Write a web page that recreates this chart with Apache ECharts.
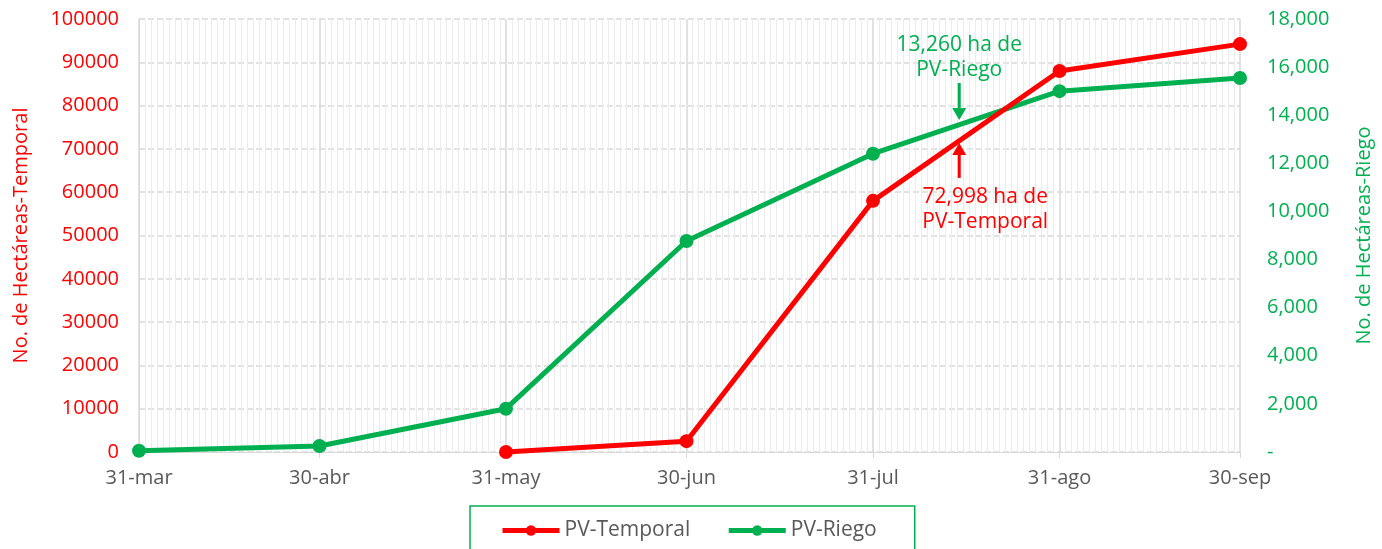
<!DOCTYPE html>
<html>
<head>
<meta charset="utf-8">
<script src="https://cdn.jsdelivr.net/npm/echarts@6/dist/echarts.min.js"></script>
<style>
html,body{margin:0;padding:0;background:#fff;}
#c{width:1382px;height:549px;}
</style>
</head>
<body>
<div id="c"></div>
<script>
// ---- data ----
const startDate = '2020-03-31';
const endDate = '2020-09-30';
const xTickDates = ['2020-03-31','2020-04-30','2020-05-31','2020-06-30','2020-07-31','2020-08-31','2020-09-30'];
const xTickLabels = ['31-mar','30-abr','31-may','30-jun','31-jul','31-ago','30-sep'];
const temporalDates = ['2020-05-31','2020-06-30','2020-07-31','2020-08-31','2020-09-30'];
const temporalValues = [0, 2500, 58000, 88000, 94200];
const riegoDates = ['2020-03-31','2020-04-30','2020-05-31','2020-06-30','2020-07-31','2020-08-31','2020-09-30'];
const riegoValues = [50, 250, 1800, 8770, 12400, 15000, 15550];
const annotDate = '2020-08-14';
const annotTemporal = 72998;
const annotRiego = 13260;
const annotTemporalText = ['72,998 ha de', 'PV-Temporal'];
const annotRiegoText = ['13,260 ha de', 'PV-Riego'];
const seriesNames = ['PV-Temporal', 'PV-Riego'];

// ---- build daily categories ----
const days = [];
{
  let t = Date.parse(startDate + 'T00:00:00Z');
  const e = Date.parse(endDate + 'T00:00:00Z');
  while (t <= e) { days.push(new Date(t).toISOString().slice(0,10)); t += 86400000; }
}
const tickSet = new Set(xTickDates);
const labelOf = {};
xTickDates.forEach((d,i)=>labelOf[d]=xTickLabels[i]);
const idx = d => days.indexOf(d);

const RED = '#ff0000', GREEN = '#00b050', GREY = '#595959', GRID = '#d9d9d9';
const FONT = '"Open Sans", sans-serif';

const chart = echarts.init(document.getElementById('c'));
const option = {
  animation: false,
  textStyle: { fontFamily: FONT },
  grid: { left: 139, right: 140, top: 19, bottom: 97, containLabel: false },
  xAxis: [
    {
      type: 'category', data: days, boundaryGap: false,
      axisLine: { show: true, lineStyle: { color: GRID, width: 1 } },
      axisTick: { show: true, length: 6, lineStyle: { color: GRID }, interval: (i, v) => tickSet.has(v) },
      axisLabel: { interval: (i, v) => tickSet.has(v), formatter: v => labelOf[v] || '',
        color: GREY, fontSize: 20, margin: 16, fontFamily: FONT },
      splitLine: { show: true, interval: (i, v) => tickSet.has(v), lineStyle: { color: GRID, width: 1.5 } }
    },
    {
      type: 'category', data: days, boundaryGap: false, position: 'bottom',
      axisLine: { show: false }, axisTick: { show: false }, axisLabel: { show: false },
      splitLine: { show: true, interval: (i, v) => !tickSet.has(v), lineStyle: { color: '#ececec', width: 1 } }
    }
  ],
  yAxis: [
    {
      type: 'value', min: 0, max: 100000, interval: 10000, position: 'left',
      name: 'No. de Hectáreas-Temporal', nameLocation: 'middle', nameGap: 108,
      nameTextStyle: { color: RED, fontSize: 20, fontFamily: FONT },
      axisLine: { show: true, lineStyle: { color: GRID } }, axisTick: { show: false },
      axisLabel: { color: RED, fontSize: 20, margin: 20, fontFamily: FONT, formatter: v => String(v) },
      splitLine: { show: true, lineStyle: { color: GRID, type: [6, 3], width: 1.5 } }
    },
    {
      type: 'value', min: 0, max: 18000, interval: 2000, position: 'right',
      name: 'No. de Hectáreas-Riego', nameLocation: 'middle', nameGap: 114,
      nameTextStyle: { color: GREEN, fontSize: 20, fontFamily: FONT },
      axisLine: { show: false }, axisTick: { show: false },
      axisLabel: { color: GREEN, fontSize: 20, margin: 27, fontFamily: FONT,
        formatter: v => v === 0 ? '-' : v.toLocaleString('en-US') },
      splitLine: { show: false }
    }
  ],
  legend: {
    data: seriesNames, bottom: -14, left: 470,
    padding: [14, 38, 22, 30], itemGap: 36, itemWidth: 57, itemHeight: 13,
    borderColor: GREEN, borderWidth: 1.5,
    lineStyle: { width: 5 },
    textStyle: { color: GREY, fontSize: 21, fontFamily: FONT }
  },
  series: [
    {
      name: seriesNames[0], type: 'line', xAxisIndex: 0, yAxisIndex: 0,
      data: temporalDates.map((d, i) => [idx(d), temporalValues[i]]),
      symbol: 'circle', symbolSize: 14,
      lineStyle: { color: RED, width: 5 }, itemStyle: { color: RED }, z: 3
    },
    {
      name: seriesNames[1], type: 'line', xAxisIndex: 0, yAxisIndex: 1,
      data: riegoDates.map((d, i) => [idx(d), riegoValues[i]]),
      symbol: 'circle', symbolSize: 14,
      lineStyle: { color: GREEN, width: 5 }, itemStyle: { color: GREEN }, z: 2
    }
  ]
};
chart.setOption(option);

// ---- annotations anchored through the axes ----
const pR = chart.convertToPixel({ xAxisIndex: 0, yAxisIndex: 0 }, [idx(annotDate), annotTemporal]);
const pG = chart.convertToPixel({ xAxisIndex: 0, yAxisIndex: 1 }, [idx(annotDate), annotRiego]);
function arrow(x, tipY, tailY, color) {
  const dir = tailY > tipY ? 1 : -1; // 1: points up
  const headLen = 12, headW = 7;
  return [
    { type: 'line', shape: { x1: x, y1: tailY, x2: x, y2: tipY + dir * headLen }, style: { stroke: color, lineWidth: 3 }, z: 10 },
    { type: 'polygon', shape: { points: [[x, tipY], [x - headW, tipY + dir * headLen], [x + headW, tipY + dir * headLen]] }, style: { fill: color }, z: 10 }
  ];
}
const gx = pG[0] + 2;
const gTip = pG[1] - 13;
const rTip = pR[1] + 7;
const TF = '21px ' + FONT;
const graphics = [].concat(
  arrow(gx, gTip, gTip - 37, GREEN),
  arrow(gx, rTip, rTip + 35, RED),
  [
    { type: 'text', x: gx, y: gTip - 75, style: { text: annotRiegoText[0], fill: GREEN, font: TF, textAlign: 'center', textVerticalAlign: 'middle' }, z: 10 },
    { type: 'text', x: gx, y: gTip - 50, style: { text: annotRiegoText[1], fill: GREEN, font: TF, textAlign: 'center', textVerticalAlign: 'middle' }, z: 10 },
    { type: 'text', x: gx + 26, y: rTip + 54, style: { text: annotTemporalText[0], fill: RED, font: TF, textAlign: 'center', textVerticalAlign: 'middle' }, z: 10 },
    { type: 'text', x: gx + 26, y: rTip + 79, style: { text: annotTemporalText[1], fill: RED, font: TF, textAlign: 'center', textVerticalAlign: 'middle' }, z: 10 }
  ]
);
chart.setOption({ graphic: graphics });
</script>
</body>
</html>
